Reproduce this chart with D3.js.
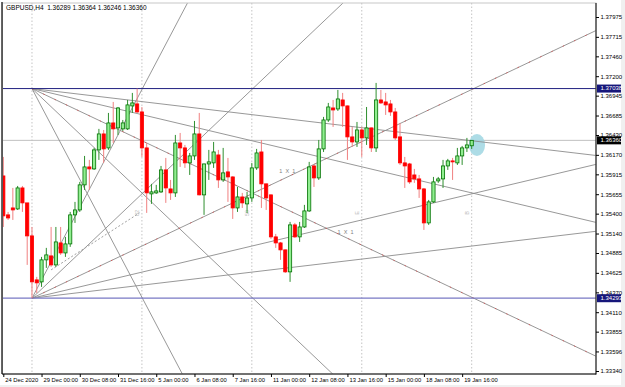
<!DOCTYPE html>
<meta charset='utf-8'>
<script src='https://d3js.org/d3.v7.min.js'></script>
<style>
body { margin: 0; background: #f0f0f0; }
text { font-family: 'Liberation Sans', Arial, sans-serif; }
</style>
<body>
<script>
var width = 625,
    height = 387;

// GBPUSD H4 bars, 24 Dec 2020 .. 20 Jan 2021 00:00
var open = [
  1.35894, 1.35384, 1.35475, 1.35462, 1.35737, 1.35541, 1.35109, 1.34533, 1.34507, 1.34795,
  1.34847, 1.34729, 1.35017, 1.34886, 1.35004, 1.35384, 1.35449, 1.35777, 1.36012, 1.35986,
  1.36235, 1.36444, 1.36261, 1.36588, 1.36523, 1.36510, 1.36510, 1.36811, 1.36837, 1.36732,
  1.36261, 1.35659, 1.35672, 1.35685, 1.35973, 1.35724, 1.35672, 1.36326, 1.36261, 1.36065,
  1.36156, 1.36444, 1.35646, 1.36051, 1.36065, 1.36169, 1.35842, 1.35947, 1.35881, 1.35475,
  1.35619, 1.35528, 1.35606, 1.35999, 1.36208, 1.35790, 1.35646, 1.35096, 1.35017, 1.34926,
  1.34638, 1.35253, 1.35096, 1.35226, 1.35436, 1.36025, 1.35868, 1.36248, 1.36627, 1.36784,
  1.36771, 1.36889, 1.36811, 1.36405, 1.36339, 1.36496, 1.36392, 1.36523, 1.36261, 1.36889,
  1.36863, 1.36837, 1.36732, 1.36405, 1.36065, 1.36051, 1.35907, 1.35855, 1.35724, 1.35279,
  1.35554, 1.35829, 1.35855, 1.36025, 1.36091, 1.36065, 1.36156, 1.36261, 1.36289
];
var high = [
  1.36143, 1.35423, 1.35737, 1.35763, 1.35763, 1.35541, 1.35226, 1.34572, 1.34834, 1.34952,
  1.35226, 1.35226, 1.35226, 1.35096, 1.35423, 1.35554, 1.35816, 1.36156, 1.36104, 1.36261,
  1.36510, 1.36496, 1.36719, 1.36863, 1.36797, 1.36627, 1.36889, 1.36981, 1.37038, 1.36797,
  1.36326, 1.35790, 1.35777, 1.36025, 1.36130, 1.35842, 1.36431, 1.36457, 1.36300, 1.36195,
  1.36614, 1.36719, 1.36055, 1.36235, 1.36339, 1.36235, 1.36261, 1.36130, 1.35890, 1.35750,
  1.35672, 1.35685, 1.36065, 1.36248, 1.36365, 1.35795, 1.35650, 1.35135, 1.35030, 1.34930,
  1.35292, 1.35279, 1.35292, 1.35515, 1.36078, 1.36038, 1.36365, 1.36667, 1.36850, 1.36889,
  1.37020, 1.36981, 1.36815, 1.36536, 1.36601, 1.36536, 1.36797, 1.36527, 1.37112, 1.37020,
  1.36981, 1.36889, 1.36784, 1.36588, 1.36143, 1.36065, 1.35986, 1.35907, 1.35737, 1.35580,
  1.35881, 1.35881, 1.36104, 1.36117, 1.36130, 1.36261, 1.36287, 1.36392, 1.36364
];
var low = [
  1.35226, 1.35318, 1.35318, 1.35449, 1.35423, 1.34729, 1.34293, 1.34363, 1.34441, 1.34690,
  1.34703, 1.34703, 1.34860, 1.34834, 1.34965, 1.35279, 1.35423, 1.35711, 1.35711, 1.35973,
  1.36104, 1.36065, 1.36235, 1.36326, 1.36431, 1.36483, 1.36496, 1.36719, 1.36719, 1.36143,
  1.35410, 1.35528, 1.35659, 1.35672, 1.35541, 1.35580, 1.35619, 1.36012, 1.35999, 1.35907,
  1.36104, 1.35640, 1.35384, 1.35842, 1.35999, 1.35737, 1.35816, 1.35554, 1.35331, 1.35423,
  1.35475, 1.35410, 1.35554, 1.35973, 1.35475, 1.35449, 1.35070, 1.34952, 1.34795, 1.34624,
  1.34507, 1.35083, 1.35030, 1.35213, 1.35423, 1.35750, 1.35842, 1.36208, 1.36601, 1.36536,
  1.36745, 1.36536, 1.36104, 1.36274, 1.36274, 1.36143, 1.36300, 1.36208, 1.36208, 1.36837,
  1.36693, 1.36680, 1.36365, 1.36038, 1.35737, 1.35790, 1.35803, 1.35606, 1.35187, 1.35253,
  1.35541, 1.35803, 1.35737, 1.35973, 1.35842, 1.36038, 1.36038, 1.36208, 1.36246
];
var close = [
  1.35371, 1.35344, 1.35449, 1.35737, 1.35541, 1.35109, 1.34507, 1.34494, 1.34795, 1.34860,
  1.34729, 1.35030, 1.34886, 1.35004, 1.35384, 1.35449, 1.35777, 1.36012, 1.35986, 1.36235,
  1.36444, 1.36248, 1.36588, 1.36510, 1.36784, 1.36588, 1.36824, 1.36850, 1.36732, 1.36261,
  1.35672, 1.35685, 1.35698, 1.35973, 1.35737, 1.35672, 1.36326, 1.36261, 1.36065, 1.36156,
  1.36444, 1.35646, 1.36051, 1.36078, 1.36208, 1.35842, 1.35934, 1.35881, 1.35475, 1.35619,
  1.35541, 1.35606, 1.35999, 1.36195, 1.35790, 1.35606, 1.35096, 1.35017, 1.34926, 1.34638,
  1.35253, 1.35096, 1.35226, 1.35436, 1.36012, 1.35868, 1.36248, 1.36627, 1.36797, 1.36758,
  1.36902, 1.36811, 1.36405, 1.36339, 1.36496, 1.36392, 1.36523, 1.36261, 1.36889, 1.36850,
  1.36824, 1.36732, 1.36392, 1.36065, 1.36025, 1.35816, 1.35855, 1.35724, 1.35279, 1.35554,
  1.35816, 1.35855, 1.36025, 1.36091, 1.36078, 1.36156, 1.36261, 1.36300, 1.36360
];

var timeLabels = ['24 Dec 2020', '29 Dec 00:00', '30 Dec 08:00', '31 Dec 16:00', '5 Jan 00:00',
  '6 Jan 08:00', '7 Jan 16:00', '11 Jan 00:00', '12 Jan 08:00', '13 Jan 16:00',
  '15 Jan 00:00', '18 Jan 08:00', '19 Jan 16:00'];
var timeLabelBars = [0, 8, 16, 24, 32, 40, 48, 56, 64, 72, 80, 88, 96];
var priceTicks = [1.37975, 1.37715, 1.37460, 1.37200, 1.36945, 1.36685, 1.36430, 1.36170,
  1.35915, 1.35655, 1.35400, 1.35140, 1.34885, 1.34625, 1.34370, 1.34110, 1.33855,
  1.33596, 1.33340];
var gridBars = [6, 29, 52, 75, 98];
var gridNames = ['82', '50', 'E', 'B'];
var levelHigh = 1.37038,
    levelLow = 1.34293,
    lastPrice = 1.36360;
var fanBar = 6,
    fanStep = 0.000297;          // 1x1 price per bar
var fanUpRatios = [4, 2, 1, 0.5, 0.25];
var fanDownRatios = [4, 2, 1, 0.5, 0.25];
var dotLine = [[10, 1.34664], [28.5, 1.35410]];
var marker = {bars: [97.4, 100.8], prices: [1.36444, 1.36156]};

var L = 3, R = 596, T = 3, B = 374;

var svg = d3.select('body').append('svg').attr('width', width).attr('height', height);
svg.append('rect').attr('width', 621).attr('height', 385).attr('fill', '#fff');

var x = d3.scaleLinear().domain([0, 98]).range([3.3, 471.7]);
var y = d3.scaleLinear().domain([1.33340, 1.37975]).range([371, 17]);

svg.append('clipPath').attr('id', 'plot')
  .append('rect').attr('x', L).attr('y', T).attr('width', R - L).attr('height', B - T);
var g = svg.append('g').attr('clip-path', 'url(#plot)');

// dotted vertical grid
g.selectAll('.grid').data(gridBars).enter().append('line')
    .attr('x1', function(d) { return x(d); }).attr('x2', function(d) { return x(d); })
    .attr('y1', T).attr('y2', B)
    .attr('stroke', '#c4c4c4').attr('stroke-dasharray', '1.5,2');
g.selectAll('.gname').data(gridNames).enter().append('text')
    .attr('transform', function(d, i) { return 'translate(' + (x(gridBars[i + 1]) - 3) + ',' + y(1.3541) + ') rotate(-90)'; })
    .attr('text-anchor', 'middle').attr('font-size', 5.5).attr('fill', '#b8b8b8')
    .text(function(d) { return d; });

// current price line
g.append('line').attr('x1', L).attr('x2', R)
    .attr('y1', y(lastPrice)).attr('y2', y(lastPrice))
    .attr('stroke', '#c0c0c0');

// ellipse marker
g.append('ellipse')
    .attr('cx', (x(marker.bars[0]) + x(marker.bars[1])) / 2)
    .attr('cy', (y(marker.prices[0]) + y(marker.prices[1])) / 2)
    .attr('rx', (x(marker.bars[1]) - x(marker.bars[0])) / 2)
    .attr('ry', (y(marker.prices[1]) - y(marker.prices[0])) / 2)
    .attr('fill', '#9fd6e2').attr('opacity', 0.85);

// gann fans
var farBar = 400;
var fans = [];
fanUpRatios.forEach(function(r) {
  fans.push({r: r, p0: [fanBar, levelLow], p1: [farBar, levelLow + r * fanStep * (farBar - fanBar)]});
});
fanDownRatios.forEach(function(r) {
  fans.push({r: r, p0: [fanBar, levelHigh], p1: [farBar, levelHigh - r * fanStep * (farBar - fanBar)]});
});
g.selectAll('.fan').data(fans).enter().append('line')
    .attr('x1', function(d) { return x(d.p0[0]); }).attr('y1', function(d) { return y(d.p0[1]); })
    .attr('x2', function(d) { return x(d.p1[0]); }).attr('y2', function(d) { return y(d.p1[1]); })
    .attr('stroke', '#8c8c8c').attr('stroke-width', 0.9);
g.selectAll('.fan1').data(fans.filter(function(d) { return d.r === 1; })).enter().append('line')
    .attr('x1', function(d) { return x(d.p0[0]); }).attr('y1', function(d) { return y(d.p0[1]); })
    .attr('x2', function(d) { return x(d.p1[0]); }).attr('y2', function(d) { return y(d.p1[1]); })
    .attr('stroke', '#e04040').attr('stroke-width', 1).attr('stroke-dasharray', '1.5,11').attr('opacity', 0.7);

g.append('line')
    .attr('x1', x(dotLine[0][0])).attr('y1', y(dotLine[0][1]))
    .attr('x2', x(dotLine[1][0])).attr('y2', y(dotLine[1][1]))
    .attr('stroke', '#a0a0a0').attr('stroke-dasharray', '2,2');

// 1x1 labels
var lbl = [[59.5, levelLow + fanStep * (59.5 - fanBar)], [71.7, levelHigh - fanStep * (71.7 - fanBar)]];
g.selectAll('.lbl').data(lbl).enter().append('text')
    .attr('x', function(d) { return x(d[0]); }).attr('y', function(d) { return y(d[1]) - 3.5; })
    .attr('text-anchor', 'middle').attr('font-size', 5.5).attr('fill', '#808080')
    .attr('letter-spacing', 0.8).text('1 X 1');

// horizontal levels
g.append('line').attr('x1', L).attr('x2', R).attr('y1', y(levelHigh)).attr('y2', y(levelHigh))
    .attr('stroke', '#202080').attr('stroke-width', 1);
g.append('line').attr('x1', L).attr('x2', R).attr('y1', y(levelLow)).attr('y2', y(levelLow))
    .attr('stroke', '#7878c4').attr('stroke-width', 1.3);

// candles
var bars = d3.range(open.length).map(function(i) {
  return {i: i, o: open[i], h: high[i], l: low[i], c: close[i]};
});
var cg = g.selectAll('.bar').data(bars).enter().append('g');
cg.append('line')
    .attr('x1', function(d) { return x(d.i); }).attr('x2', function(d) { return x(d.i); })
    .attr('y1', function(d) { return y(d.h); }).attr('y2', function(d) { return y(d.l); })
    .attr('stroke', function(d) { return d.c >= d.o ? '#2f8f2f' : '#f08080'; })
    .attr('stroke-width', 1);
cg.append('rect')
    .attr('x', function(d) { return x(d.i) - 1.6; })
    .attr('width', 3.2)
    .attr('y', function(d) { return y(Math.max(d.o, d.c)); })
    .attr('height', function(d) { return Math.max(Math.abs(y(d.o) - y(d.c)), 0.8); })
    .attr('fill', function(d) { return d.c >= d.o ? '#90ee90' : '#ff0000'; })
    .attr('stroke', function(d) { return d.c >= d.o ? '#007000' : '#ff0000'; })
    .attr('stroke-width', 0.8);

// frame
svg.append('rect').attr('x', L - 0.5).attr('y', T).attr('width', R - L + 0.5).attr('height', B - T)
    .attr('fill', 'none').attr('stroke', '#c8c8c8');
svg.append('line').attr('x1', 2).attr('x2', 2).attr('y1', 2).attr('y2', B)
    .attr('stroke', '#333').attr('stroke-width', 1.5);
svg.append('line').attr('x1', R).attr('x2', R).attr('y1', T).attr('y2', B + 0.5).attr('stroke', '#000');
svg.append('line').attr('x1', 2).attr('x2', R).attr('y1', B).attr('y2', B).attr('stroke', '#000');

// price axis
var ya = svg.append('g').attr('transform', 'translate(' + R + ',0)')
    .call(d3.axisRight(y).tickValues(priceTicks).tickSize(3).tickSizeOuter(0).tickFormat(d3.format('.5f')));
ya.select('.domain').remove();
ya.selectAll('text').attr('x', 4.5).attr('font-size', 6).attr('font-family', null).attr('fill', '#000');
ya.selectAll('line').attr('stroke', '#000');

// time axis
var xa = svg.append('g').attr('transform', 'translate(0,' + B + ')')
    .call(d3.axisBottom(x).tickValues(timeLabelBars).tickSize(3).tickSizeOuter(0)
      .tickFormat(function(d, i) { return timeLabels[i]; }));
xa.select('.domain').remove();
xa.selectAll('text').attr('text-anchor', 'start').attr('x', 1.5).attr('y', 4)
    .attr('font-size', 5.8).attr('font-family', null).attr('fill', '#000');
xa.selectAll('line').attr('stroke', '#000');

// price boxes
var boxes = [
  {p: levelHigh, bg: '#16167a'},
  {p: lastPrice, bg: '#000'},
  {p: levelLow, bg: '#16167a'}
];
var bx = svg.selectAll('.box').data(boxes).enter().append('g')
    .attr('transform', function(d) { return 'translate(' + (R + 1) + ',' + y(d.p) + ')'; });
bx.append('rect').attr('x', 0).attr('y', -4).attr('width', 24).attr('height', 8)
    .attr('fill', function(d) { return d.bg; });
bx.append('text').attr('x', 3.5).attr('dy', '0.32em').attr('font-size', 6).attr('fill', '#fff')
    .text(function(d) { return d3.format('.5f')(d.p); });

// title
svg.append('text').attr('x', 6).attr('y', 9.5).attr('font-size', 6.5).attr('fill', '#000')
    .style('white-space', 'pre')
    .text('GBPUSD,H4  ' + [open, high, low, close].map(function(a) { return d3.format('.5f')(a[a.length - 1]); }).join(' '));
</script>
